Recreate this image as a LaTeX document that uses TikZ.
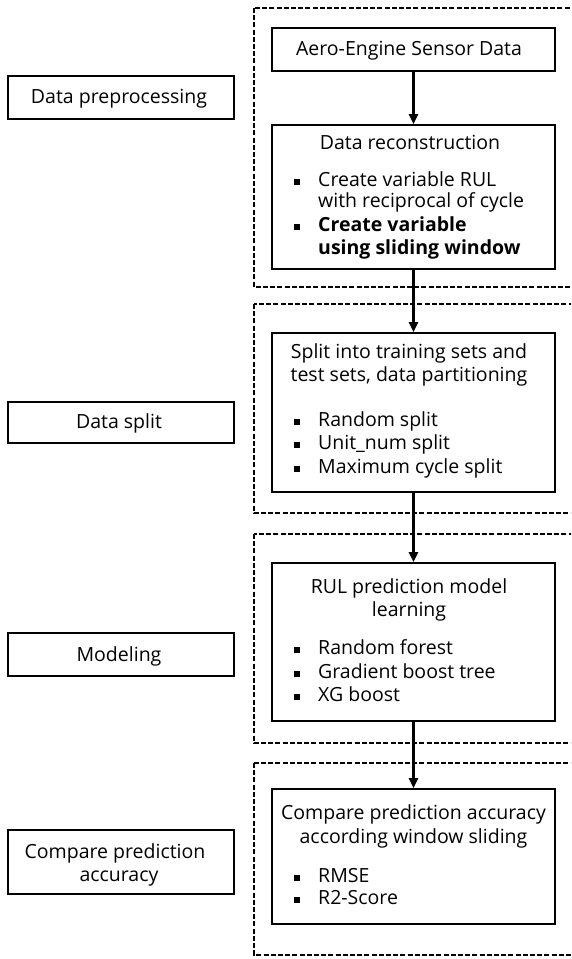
\documentclass[tikz,border=0pt]{standalone}
\usepackage{fontspec}
\setmainfont{Open Sans}
\usetikzlibrary{arrows.meta}
\begin{document}
\begin{tikzpicture}[x=1pt,y=-1pt,
  font=\fontsize{19.5}{23}\selectfont,
  stagebox/.style={draw,line width=2pt,rectangle,inner sep=0pt,minimum width=283pt},
  sidebox/.style={draw,line width=2pt,rectangle,inner sep=0pt,minimum width=226pt},
  groupbox/.style={draw,line width=2.2pt,dash pattern=on 5pt off 2.2pt},
  head/.style={anchor=mid,inner sep=0pt,yshift=-4pt},
  item/.style={anchor=mid west,inner sep=0pt,yshift=-4pt},
  flow/.style={line width=2.4pt,-{Triangle[length=10pt,width=9pt]}},
  bul/.style={fill=black,minimum size=6pt,inner sep=0pt,yshift=-1.5pt}
]
\useasboundingbox (0,0) rectangle (571,959);
\clip (0,0) rectangle (571,959);

% dashed group frames (run past the right edge)
\draw[groupbox] (254,8) rectangle (590,287);
\draw[groupbox] (254,304) rectangle (590,513);
\draw[groupbox] (254,534) rectangle (590,743);
\draw[groupbox] (254,763) rectangle (590,955);

% stage boxes
\node[stagebox,minimum height=43pt] (src) at (413.5,49.5) {};
\node[head] (h1) at (409,49) {Aero-Engine Sensor Data};
\node[stagebox,minimum height=144pt] (recon) at (413.5,197) {};
\node[stagebox,minimum height=159pt] (split) at (413.5,412.5) {};
\node[stagebox,minimum height=158pt] (model) at (413.5,642) {};
\node[stagebox,minimum height=135pt] (eval) at (413.5,856.5) {};

% side labels
\node[sidebox,minimum height=43pt] (l1) at (121,97.5) {};
\node[head] (s1) at (119,97) {Data preprocessing};
\node[sidebox,minimum height=41pt] (l2) at (121,422.5) {};
\node[head] (s2) at (119,422) {Data split};
\node[sidebox,minimum height=43pt] (l3) at (121,654.5) {};
\node[head] (s3) at (119,655) {Modeling};
\node[sidebox,minimum height=64pt] (l4) at (121,862) {};
\node[head] (s4a) at (115,852) {Compare prediction};
\node[head] (s4b) at (119,875) {accuracy};

% contents of the reconstruction box
\node[head] (h2) at (410,143) {Data reconstruction};
\node[bul] (b21) at (297,180) {};
\node[item] (t21) at (318,180) {Create variable RUL};
\node[item] (t22) at (318,201) {with reciprocal of cycle};
\node[bul] (b22) at (297,225) {};
\node[item] (t23) at (318,225) {\bfseries Create variable};
\node[item] (t24) at (318,248) {\bfseries using sliding window};

% contents of the split box
\node[head] (h3a) at (409,352) {Split into training sets and};
\node[head] (h3b) at (409,375) {test sets, data partitioning};
\node[bul] (b31) at (297,420) {};
\node[item] (t31) at (318,420) {Random split};
\node[bul] (b32) at (297,443) {};
\node[item] (t32) at (318,443) {Unit\_num split};
\node[bul] (b33) at (297,467) {};
\node[item] (t33) at (318,467) {Maximum cycle split};

% contents of the model box
\node[head] (h4a) at (409,587) {RUL prediction model};
\node[head] (h4b) at (409,610) {learning};
\node[bul] (b41) at (297,648) {};
\node[item] (t41) at (318,648) {Random forest};
\node[bul] (b42) at (297,672) {};
\node[item] (t42) at (318,672) {Gradient boost tree};
\node[bul] (b43) at (297,695) {};
\node[item] (t43) at (318,695) {XG boost};

% contents of the evaluation box
\node[head] (h5a) at (413.5,813) {Compare prediction accuracy};
\node[head] (h5b) at (413.5,837) {according window sliding};
\node[bul] (b51) at (297,876) {};
\node[item] (t51) at (318,876) {RMSE};
\node[bul] (b52) at (297,898) {};
\node[item] (t52) at (318,898) {R2-Score};

% flow arrows
\draw[flow] (src.south) -- (recon.north);
\draw[flow] (recon.south) -- (split.north);
\draw[flow] (split.south) -- (model.north);
\draw[flow] (model.south) -- (eval.north);
\end{tikzpicture}
\end{document}
